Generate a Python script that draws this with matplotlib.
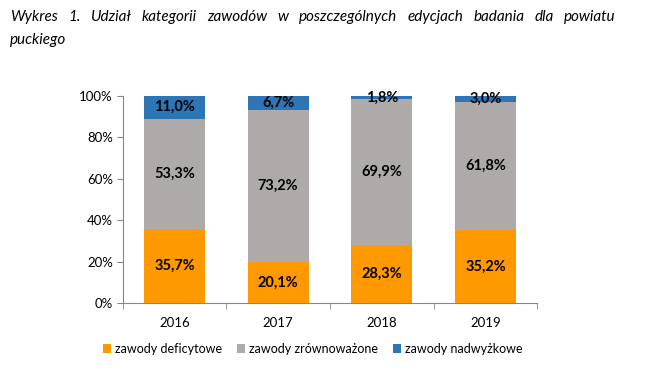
import matplotlib
matplotlib.use("Agg")
import matplotlib.pyplot as plt
import numpy as np

years = ["2016", "2017", "2018", "2019"]
deficytowe = [35.7, 20.1, 28.3, 35.2]
zrownowazone = [53.3, 73.2, 69.9, 61.8]
nadwyzkowe = [11.0, 6.7, 1.8, 3.0]
series_names = ["zawody deficytowe", "zawody zrównoważone", "zawody nadwyżkowe"]
colors = ["#FF9900", "#AEAAAA", "#2E75B6"]
title_line1 = "Wykres 1. Udział kategorii zawodów w poszczególnych edycjach badania dla powiatu"
title_line2 = "puckiego"

plt.rcParams['font.family'] = ['Lato', 'DejaVu Sans']

W, H = 645, 378
fig = plt.figure(figsize=(W / 100, H / 100), dpi=100)
ax = fig.add_axes([122.7 / W, 1 - 303.3 / H, (537.3 - 122.7) / W, (303.3 - 95.7) / H])

x = np.arange(len(years))
series = [deficytowe, zrownowazone, nadwyzkowe]
bottom = np.zeros(len(years))
for vals, c, name in zip(series, colors, series_names):
    vals = np.array(vals)
    ax.bar(x, vals, bottom=bottom, width=0.59, color=c, label=name, zorder=2)
    for xi, v, b in zip(x, vals, bottom):
        ax.text(xi, b + v / 2, f"{v:.1f}%".replace(".", ","), ha="center", va="center",
                fontsize=10.5, fontweight="bold", color="black", zorder=3)
    bottom = bottom + vals

ax.set_xlim(-0.5, len(years) - 0.5)
ax.set_ylim(0, 100)
ax.set_yticks(np.arange(0, 101, 20))
ax.set_yticklabels([f"{v}%" for v in range(0, 101, 20)], fontsize=9.5)
ax.set_xticks(x)
ax.set_xticklabels(years, fontsize=9.5)
ax.set_xticks(np.arange(-0.5, len(years), 1.0), minor=True)
ax.tick_params(axis="x", which="major", length=0, pad=10)
ax.tick_params(axis="x", which="minor", length=4, color="#868686", direction="out")
ax.tick_params(axis="y", length=4, color="#868686", direction="out", pad=3)
for s in ["top", "right"]:
    ax.spines[s].set_visible(False)
for s in ["left", "bottom"]:
    ax.spines[s].set_color("#868686")
    ax.spines[s].set_linewidth(0.8)

fig.legend(loc="center", bbox_to_anchor=(312.5 / W, 1 - 349 / H), ncol=3, frameon=False,
           fontsize=9, handlelength=0.65, handleheight=0.65, handletextpad=0.3,
           columnspacing=1.2)

# Justified first title line
fig.canvas.draw()
renderer = fig.canvas.get_renderer()
words = title_line1.split(" ")
x_left, x_right = 10 / W, 616 / W
y1 = 1 - 17 / H
texts = []
total_w = 0
for w in words:
    t = fig.text(0, y1, w, fontsize=11, style="italic", va="center", ha="left")
    bb = t.get_window_extent(renderer=renderer)
    texts.append((t, bb.width / W))
    total_w += bb.width / W
gap = ((x_right - x_left) - total_w) / (len(words) - 1)
cur = x_left
for t, wd in texts:
    t.set_x(cur)
    cur += wd + gap
fig.text(x_left, 1 - 40 / H, title_line2, fontsize=11, style="italic", va="center", ha="left")

fig.savefig("out.png", dpi=100)
